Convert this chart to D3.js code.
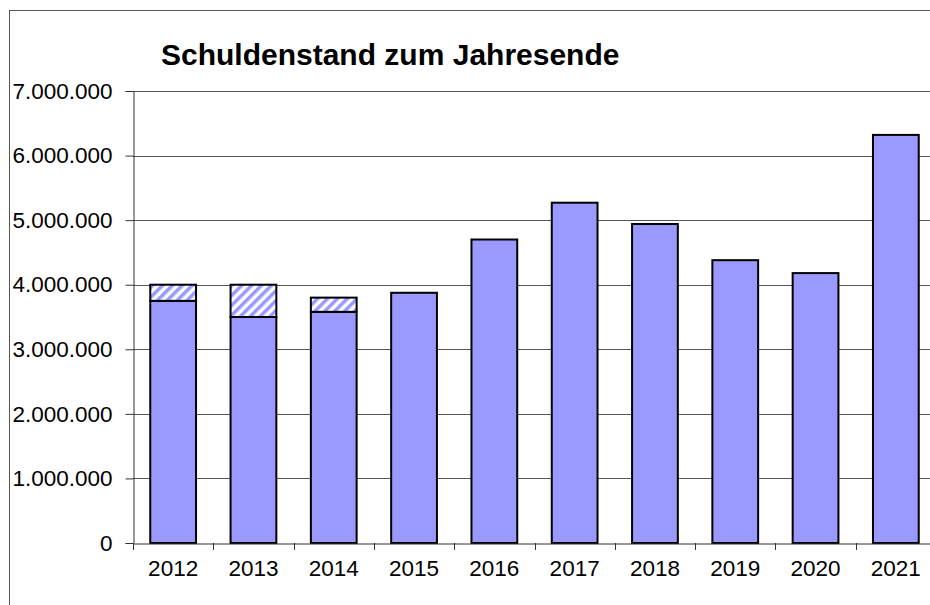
<!DOCTYPE html>
<html>
<head>
<meta charset="utf-8">
<script src="https://cdn.jsdelivr.net/npm/d3@7"></script>
<style>
  body { margin: 0; background: #fff; }
  svg { display: block; font-family: "Liberation Sans", Arial, sans-serif; }
</style>
</head>
<body>
<svg class="chart" width="930" height="605"></svg>
<script>
var years = ["2012","2013","2014","2015","2016","2017","2018","2019","2020","2021"];
var solid = [3750000, 3500000, 3580000, 3875000, 4700000, 5270000, 4940000, 4380000, 4180000, 6320000];
var hatched = [250000, 500000, 220000, 0, 0, 0, 0, 0, 0, 0];
var yTicks = [0, 1000000, 2000000, 3000000, 4000000, 5000000, 6000000, 7000000];

var margin = {top: 91, left: 133, bottom: 62},
    width = 803,
    height = 452;

var svg = d3.select(".chart");

// outer frame (cut off at right and bottom like the original)
svg.append("rect")
    .attr("x", 9.5).attr("y", 10.5)
    .attr("width", 960).attr("height", 640)
    .attr("fill", "none")
    .style("stroke", "#555")
    .style("stroke-width", 1);

var defs = svg.append("defs");
var pat = defs.append("pattern")
    .attr("id", "hatch")
    .attr("patternUnits", "userSpaceOnUse")
    .attr("width", 7).attr("height", 7)
    .attr("patternTransform", "rotate(45)");
pat.append("rect").attr("width", 7).attr("height", 7).attr("fill", "#fff");
pat.append("rect").attr("width", 3.5).attr("height", 7).attr("fill", "#9999ff");

var x = d3.scaleBand()
    .domain(years)
    .range([margin.left, margin.left + width])
    .paddingInner(0.43)
    .paddingOuter(0.215);

var y = d3.scaleLinear()
    .domain([0, 7000000])
    .range([margin.top + height, margin.top]);

var fmt = function(d) { return d3.format(",")(d).replace(/,/g, "."); };

// gridlines
svg.append("g")
  .selectAll("line")
  .data(yTicks.filter(function(d) { return d > 0; }))
  .enter().append("line")
    .attr("x1", margin.left).attr("x2", 940)
    .attr("y1", function(d) { return Math.round(y(d)) + 0.5; })
    .attr("y2", function(d) { return Math.round(y(d)) + 0.5; })
    .style("stroke", "#555")
    .style("stroke-width", 1);

// bars
var bars = svg.append("g");
bars.selectAll(".bar-solid")
    .data(solid)
    .enter().append("rect")
    .attr("class", "bar-solid")
    .attr("x", function(d, i) { return x(years[i]); })
    .attr("y", function(d) { return y(d); })
    .attr("width", x.bandwidth())
    .attr("height", function(d) { return y(0) - y(d); })
    .attr("fill", "#9999ff")
    .style("stroke", "#000")
    .style("stroke-width", 2);

bars.selectAll(".bar-hatch")
    .data(hatched)
    .enter().filter(function(d) { return d > 0; }).append("rect")
    .attr("class", "bar-hatch")
    .attr("x", function(d, i) { return x(years[i]); })
    .attr("y", function(d, i) { return y(solid[i] + d); })
    .attr("width", x.bandwidth())
    .attr("height", function(d, i) { return y(solid[i]) - y(solid[i] + d); })
    .attr("fill", "url(#hatch)")
    .style("stroke", "#000")
    .style("stroke-width", 2);

// y axis
var yAxis = d3.axisLeft(y)
    .tickValues(yTicks)
    .tickFormat(fmt)
    .tickSize(8)
    .tickPadding(13);
var gy = svg.append("g")
    .attr("transform", "translate(" + (margin.left + 0.5) + ",0)")
    .call(yAxis);
gy.select(".domain").style("stroke", "#333");
gy.selectAll(".tick line").style("stroke", "#333");
gy.selectAll("text")
    .style("font-size", "22.5px")
    .style("font-family", "Liberation Sans, Arial, sans-serif")
    .attr("fill", "#000");

// x axis
var xAxis = d3.axisBottom(x).tickSize(0).tickPadding(17);
var gx = svg.append("g")
    .attr("transform", "translate(0," + (Math.round(y(0)) + 0.5) + ")")
    .call(xAxis);
gx.select(".domain").style("stroke", "#333");
gx.selectAll("text")
    .style("font-size", "22.5px")
    .style("font-family", "Liberation Sans, Arial, sans-serif")
    .attr("fill", "#000");

// category separators
var step = x.step();
svg.append("g")
  .selectAll("line")
  .data(years)
  .enter().append("line")
    .attr("x1", function(d, i) { return Math.round(margin.left + i * step) + 0.5; })
    .attr("x2", function(d, i) { return Math.round(margin.left + i * step) + 0.5; })
    .attr("y1", y(0)).attr("y2", y(0) + 7)
    .style("stroke", "#333");

// title
svg.append("text")
    .attr("x", 161).attr("y", 65)
    .style("font-size", "30px")
    .style("font-weight", "bold")
    .text("Schuldenstand zum Jahresende");
</script>
</body>
</html>
